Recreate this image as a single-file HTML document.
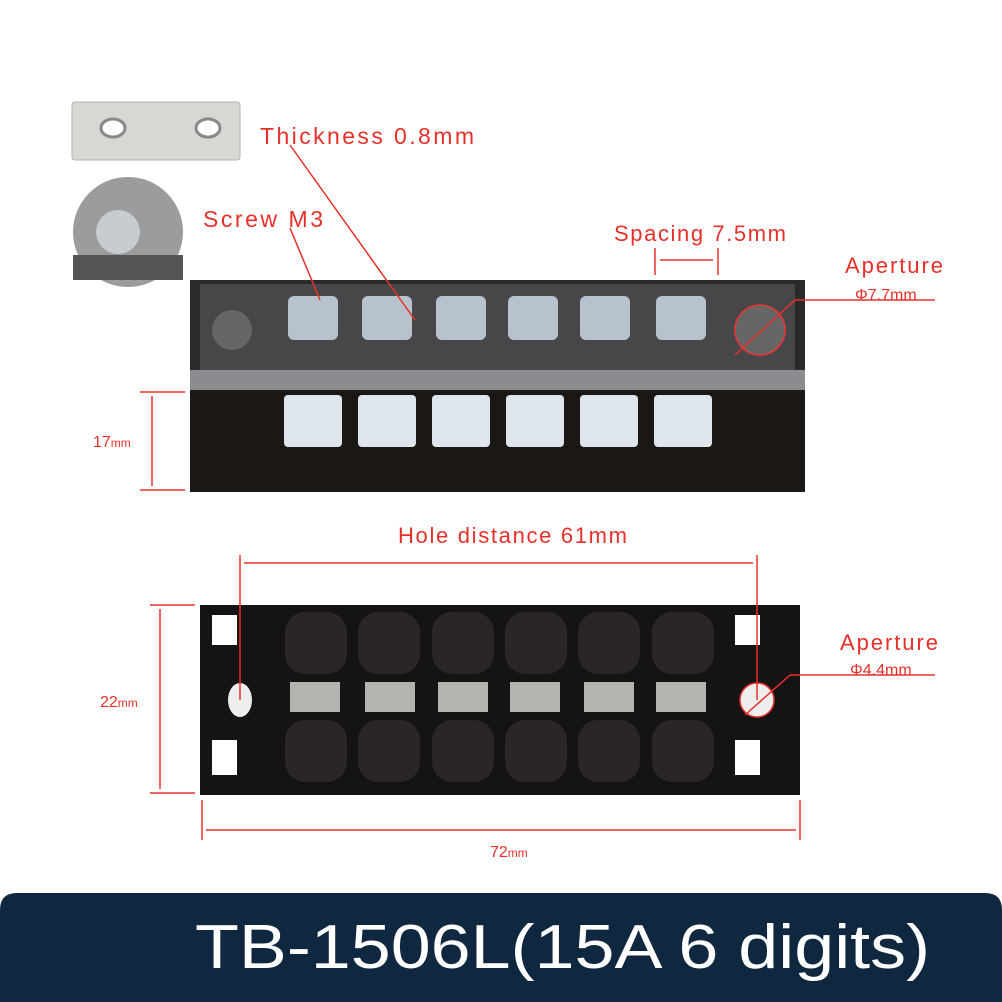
<!DOCTYPE html>
<html><head><meta charset="utf-8"><style>
html,body{margin:0;padding:0;background:#fff;}
svg{display:block;}
text{font-family:"Liberation Sans",sans-serif;}
</style></head><body>
<svg width="1002" height="1002" viewBox="0 0 1002 1002" xmlns="http://www.w3.org/2000/svg">
<rect width="1002" height="1002" fill="#fff"/>
<rect x="72" y="102" width="168" height="58" rx="3" fill="#d6d8d4" stroke="#b0b2ae"/>
<ellipse cx="113" cy="128" rx="12" ry="9" fill="#fff" stroke="#888" stroke-width="3"/>
<ellipse cx="208" cy="128" rx="12" ry="9" fill="#fff" stroke="#888" stroke-width="3"/>
<circle cx="128" cy="232" r="55" fill="#9a9c9e"/>
<circle cx="118" cy="232" r="22" fill="#c8cbcf"/>
<rect x="73" y="255" width="110" height="25" fill="#555"/>
<rect x="190" y="280" width="615" height="112" fill="#2a2a2a"/>
<rect x="200" y="284" width="595" height="100" fill="#4a4a4c" opacity="0.9"/>
<rect x="190" y="370" width="615" height="20" fill="#8a8c90"/>
<rect x="190" y="390" width="615" height="102" fill="#1a1714"/>
<g fill="#b8c2cc">
<rect x="288" y="296" width="50" height="44" rx="6"/><rect x="362" y="296" width="50" height="44" rx="6"/>
<rect x="436" y="296" width="50" height="44" rx="6"/><rect x="508" y="296" width="50" height="44" rx="6"/>
<rect x="580" y="296" width="50" height="44" rx="6"/><rect x="656" y="296" width="50" height="44" rx="6"/>
</g>
<g fill="#dfe5ec">
<rect x="284" y="395" width="58" height="52" rx="4"/><rect x="358" y="395" width="58" height="52" rx="4"/>
<rect x="432" y="395" width="58" height="52" rx="4"/><rect x="506" y="395" width="58" height="52" rx="4"/>
<rect x="580" y="395" width="58" height="52" rx="4"/><rect x="654" y="395" width="58" height="52" rx="4"/>
</g>
<circle cx="232" cy="330" r="20" fill="#666"/>
<circle cx="760" cy="330" r="25" fill="#666" stroke="#e33" stroke-width="1.5"/>
<rect x="200" y="605" width="600" height="190" fill="#161314"/>
<g fill="#2a2626">
<rect x="285" y="612" width="62" height="62" rx="20"/><rect x="358" y="612" width="62" height="62" rx="20"/>
<rect x="432" y="612" width="62" height="62" rx="20"/><rect x="505" y="612" width="62" height="62" rx="20"/>
<rect x="578" y="612" width="62" height="62" rx="20"/><rect x="652" y="612" width="62" height="62" rx="20"/>
<rect x="285" y="720" width="62" height="62" rx="20"/><rect x="358" y="720" width="62" height="62" rx="20"/>
<rect x="432" y="720" width="62" height="62" rx="20"/><rect x="505" y="720" width="62" height="62" rx="20"/>
<rect x="578" y="720" width="62" height="62" rx="20"/><rect x="652" y="720" width="62" height="62" rx="20"/>
</g>
<g fill="#b5b3b0">
<rect x="290" y="682" width="50" height="30"/><rect x="365" y="682" width="50" height="30"/>
<rect x="438" y="682" width="50" height="30"/><rect x="510" y="682" width="50" height="30"/>
<rect x="584" y="682" width="50" height="30"/><rect x="656" y="682" width="50" height="30"/>
</g>
<g fill="#fff">
<rect x="212" y="615" width="25" height="30"/><rect x="212" y="740" width="25" height="35"/>
<rect x="735" y="615" width="25" height="30"/><rect x="735" y="740" width="25" height="35"/>
</g>
<ellipse cx="240" cy="700" rx="12" ry="17" fill="#eee"/>
<circle cx="757" cy="700" r="17" fill="#eee" stroke="#e33" stroke-width="1.5"/>
<g stroke="#e8302a" stroke-width="1.5" fill="none">
<line x1="290" y1="145" x2="415" y2="320"/>
<line x1="290" y1="228" x2="320" y2="300"/>
<line x1="655" y1="248" x2="655" y2="275"/><line x1="718" y1="248" x2="718" y2="275"/>
<line x1="660" y1="260" x2="713" y2="260"/>
<line x1="735" y1="355" x2="795" y2="300"/><line x1="795" y1="300" x2="935" y2="300"/>
<line x1="140" y1="392" x2="185" y2="392"/><line x1="140" y1="490" x2="185" y2="490"/>
<line x1="152" y1="396" x2="152" y2="486"/>
<line x1="240" y1="555" x2="240" y2="700"/><line x1="757" y1="555" x2="757" y2="700"/>
<line x1="244" y1="563" x2="753" y2="563"/>
<line x1="745" y1="715" x2="790" y2="675"/><line x1="790" y1="675" x2="935" y2="675"/>
<line x1="150" y1="605" x2="195" y2="605"/><line x1="150" y1="793" x2="195" y2="793"/>
<line x1="160" y1="609" x2="160" y2="789"/>
<line x1="202" y1="800" x2="202" y2="840"/><line x1="800" y1="800" x2="800" y2="840"/>
<line x1="206" y1="830" x2="796" y2="830"/>
</g>
<g fill="#e8302a" font-size="23">
<text x="260" y="144" textLength="214">Thickness 0.8mm</text>
<text x="203" y="227" textLength="120">Screw M3</text>
<text x="614" y="241" font-size="22" textLength="172">Spacing 7.5mm</text>
<text x="845" y="273" font-size="22" textLength="98">Aperture</text>
<text x="855" y="300" font-size="16">Φ7.7mm</text>
<text x="93" y="447" font-size="16">17<tspan font-size="12">mm</tspan></text>
<text x="398" y="543" font-size="22" textLength="229">Hole distance 61mm</text>
<text x="840" y="650" font-size="22" textLength="98">Aperture</text>
<text x="850" y="675" font-size="16">Φ4.4mm</text>
<text x="100" y="707" font-size="16">22<tspan font-size="12">mm</tspan></text>
<text x="490" y="857" font-size="16">72<tspan font-size="12">mm</tspan></text>
</g>
<path d="M0 910 Q0 893 17 893 L985 893 Q1002 893 1002 910 L1002 1002 L0 1002Z" fill="#10283f"/>
<text x="195" y="968" fill="#fff" font-size="62" textLength="735" lengthAdjust="spacingAndGlyphs">TB-1506L(15A 6 digits)</text>
</svg>
</body></html>
